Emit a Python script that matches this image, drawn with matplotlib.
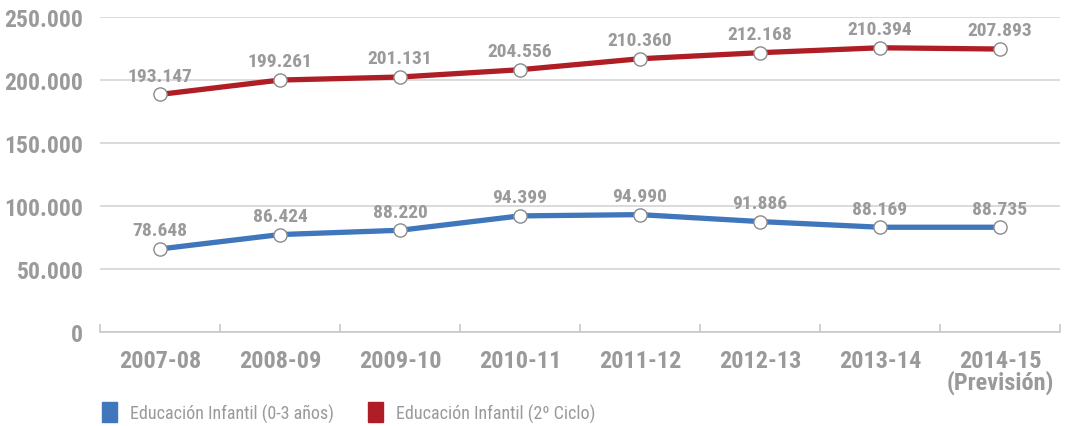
import matplotlib.pyplot as plt
from matplotlib import font_manager
from matplotlib.patches import Patch
from matplotlib.ticker import FixedLocator, FuncFormatter

cursos = ['2007-08', '2008-09', '2009-10', '2010-11', '2011-12',
          '2012-13', '2013-14', '2014-15\n(Previsión)']
infantil_0_3 = [66100, 77500, 80900, 92300, 93300, 87800, 83300, 83300]
infantil_2ciclo = [188600, 200000, 202400, 208200, 216900, 221700, 225600, 224600]
etiquetas_0_3 = ['78.648', '86.424', '88.220', '94.399', '94.990',
                 '91.886', '88.169', '88.735']
etiquetas_2ciclo = ['193.147', '199.261', '201.131', '204.556', '210.360',
                    '212.168', '210.394', '207.893']

gris = '#9a9a9c'
azul = '#3f76bc'
rojo = '#ae1e24'


# buscar una fuente estrecha parecida a la original
def primera_fuente(nombres):
    for n in nombres:
        try:
            font_manager.findfont(n, fallback_to_default=False)
            return n
        except Exception:
            pass
    return 'DejaVu Sans'


fuente = primera_fuente(['Liberation Sans Narrow', 'Roboto Condensed',
                         'DejaVu Sans Condensed', 'Roboto'])
plt.rcParams['font.family'] = [fuente, 'DejaVu Sans']

fig = plt.figure(figsize=(10.68, 4.27), dpi=100)
ax = fig.add_axes([100 / 1068, 1 - 333.3 / 427, 960 / 1068, (333.3 - 18) / 427])

x = list(range(len(cursos)))
for valores, etiquetas, color in [(infantil_0_3, etiquetas_0_3, azul),
                                  (infantil_2ciclo, etiquetas_2ciclo, rojo)]:
    ax.plot(x, valores, color=color, lw=3.8, solid_capstyle='butt', zorder=3)
    ax.plot(x, valores, 'o', ms=9.5, mfc='white', mec='#8a8a8a', mew=1.0, zorder=4)
    for xi, v, t in zip(x, valores, etiquetas):
        ax.annotate(t, (xi, v), xytext=(0, 7), textcoords='offset points',
                    ha='center', va='bottom', fontsize=14, fontweight='bold',
                    color=gris)

ax.set_xlim(-0.5, len(cursos) - 0.5)
ax.set_ylim(0, 250000)
ax.yaxis.set_major_locator(FixedLocator([0, 50000, 100000, 150000, 200000, 250000]))
ax.yaxis.set_major_formatter(FuncFormatter(lambda v, p: f'{int(v):,}'.replace(',', '.')))
ax.grid(axis='y', color='#d4d4d4', lw=1.2)
ax.set_axisbelow(True)

ax.set_xticks(x)
ax.set_xticklabels(cursos, fontsize=17.5, fontweight='bold', color=gris, linespacing=0.9)
ax.set_xticks([i - 0.5 for i in range(len(cursos) + 1)], minor=True)
ax.tick_params(axis='x', which='major', length=0, pad=12)
ax.tick_params(axis='x', which='minor', direction='in', length=6, color='#c8c8c8', width=1.2)
ax.tick_params(axis='y', length=0, pad=12, labelsize=17, labelcolor=gris)
for lab in ax.get_yticklabels():
    lab.set_fontweight('bold')

for s in ['top', 'right', 'left']:
    ax.spines[s].set_visible(False)
ax.spines['bottom'].set_color('#c8c8c8')
ax.spines['bottom'].set_linewidth(1.2)

handles = [Patch(color=azul, label='Educación Infantil (0-3 años)'),
           Patch(color=rojo, label='Educación Infantil (2º Ciclo)')]
fig.legend(handles=handles, loc='lower left', bbox_to_anchor=(0.08, -0.03),
           ncol=2, frameon=False, fontsize=13, labelcolor=gris,
           handlelength=0.85, handleheight=1.3, handletextpad=0.7, columnspacing=1.9)

fig.savefig('out.png', dpi=100)
